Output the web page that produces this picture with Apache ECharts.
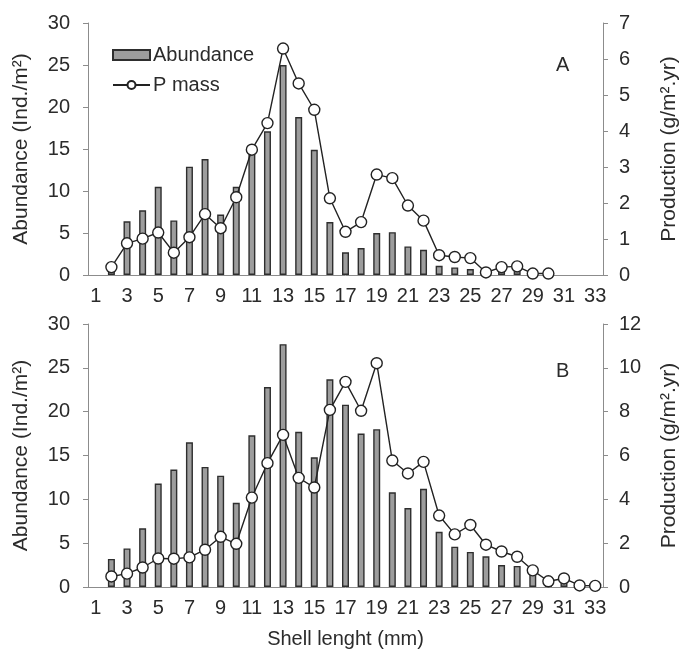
<!DOCTYPE html>
<html style="height: 100%">
<head>
<meta charset="utf-8">
<title>Abundance and production</title>
<script type="text/javascript" src="https://cdn.jsdelivr.net/npm/echarts@6/dist/echarts.min.js"></script>
</head>
<body style="height: 100%; margin: 0; background: #fff">
<div id="container" style="width: 684px; height: 655px"></div>
<script type="text/javascript">
// shell length classes (mm)
var lengths = ['1','2','3','4','5','6','7','8','9','10','11','12','13','14','15','16','17',
               '18','19','20','21','22','23','24','25','26','27','28','29','30','31','32','33'];

// panel A
var abundA = [null, 0.5, 6.4, 7.7, 10.5, 6.5, 12.9, 13.8, 7.2, 10.5, 14.5, 17.1, 25.0, 18.8, 14.9, 6.3, 2.7,
              3.2, 5.0, 5.1, 3.4, 3.0, 1.1, 0.9, 0.7, 0.1, 0.5, 0.5, null, null, null, null, null];
var pmassA = [null, 0.22, 0.88, 1.01, 1.18, 0.62, 1.05, 1.69, 1.30, 2.16, 3.48, 4.22, 6.29, 5.32, 4.59, 2.13, 1.20,
              1.47, 2.79, 2.69, 1.93, 1.51, 0.55, 0.50, 0.47, 0.07, 0.22, 0.24, 0.04, 0.04, null, null, null];

// panel B
var abundB = [null, 3.2, 4.4, 6.7, 11.8, 13.4, 16.5, 13.7, 12.7, 9.6, 17.3, 22.8, 27.7, 17.7, 14.8, 23.7, 20.8,
              17.5, 18.0, 10.8, 9.0, 11.2, 6.3, 4.6, 4.0, 3.5, 2.5, 2.4, 1.5, 0.3, 0.5, null, null];
var pmassB = [null, 0.48, 0.61, 0.89, 1.30, 1.29, 1.35, 1.70, 2.29, 1.97, 4.08, 5.65, 6.94, 4.98, 4.54, 8.08, 9.36,
              8.04, 10.21, 5.77, 5.18, 5.71, 3.26, 2.40, 2.83, 1.93, 1.62, 1.38, 0.76, 0.26, 0.39, 0.07, 0.05];

var font = 'Liberation Sans, Arial, sans-serif';
var axisGray = '#8c8c8c';
var textCol = '#2b2b2b';
var fs = 20;

function xAx(gridIndex, withName) {
    return {
        type: 'category',
        gridIndex: gridIndex,
        data: lengths,
        boundaryGap: true,
        name: withName ? 'Shell lenght (mm)' : '',
        nameLocation: 'middle',
        nameGap: 42,
        nameTextStyle: { fontFamily: font, fontSize: fs, color: textCol },
        axisLine: { lineStyle: { color: axisGray, width: 1 } },
        axisTick: { interval: 0, length: 5, lineStyle: { color: axisGray } },
        axisLabel: { interval: 1, margin: 11, fontFamily: font, fontSize: fs, color: textCol }
    };
}

function yAx(gridIndex, pos, max, interval, name) {
    return {
        type: 'value',
        gridIndex: gridIndex,
        position: pos,
        min: 0,
        max: max,
        interval: interval,
        name: name,
        nameLocation: 'middle',
        nameGap: 56,
        nameTextStyle: { fontFamily: font, fontSize: 21, color: textCol },
        splitLine: { show: false },
        axisLine: { show: true, lineStyle: { color: axisGray, width: 1 } },
        axisTick: { show: true, length: 5, lineStyle: { color: axisGray } },
        axisLabel: { margin: pos === 'left' ? 18 : 16, fontFamily: font, fontSize: fs, color: textCol }
    };
}

function barSeries(name, x, y, data) {
    return {
        name: name, type: 'bar', xAxisIndex: x, yAxisIndex: y, data: data,
        barWidth: 7,
        itemStyle: { color: '#9d9d9d', borderColor: '#2e2e2e', borderWidth: 1.4 }
    };
}

function lineSeries(name, x, y, data) {
    return {
        name: name, type: 'line', xAxisIndex: x, yAxisIndex: y, data: data,
        symbol: 'circle', symbolSize: 11, showAllSymbol: true,
        lineStyle: { color: '#222', width: 1.4 },
        itemStyle: { color: '#fff', borderColor: '#222', borderWidth: 1.4 },
        z: 3
    };
}

var chart = echarts.init(document.getElementById('container'));
var option = {
    animation: false,
    backgroundColor: '#fff',
    title: [
        { text: 'A', left: 551, top: 50, textStyle: { fontFamily: font, fontSize: fs, fontWeight: 'normal', color: textCol } },
        { text: 'B', left: 551, top: 356, textStyle: { fontFamily: font, fontSize: fs, fontWeight: 'normal', color: textCol } }
    ],
    legend: {
        orient: 'vertical',
        left: 107,
        top: 40,
        itemWidth: 37,
        itemHeight: 10,
        itemGap: 10,
        textStyle: { fontFamily: font, fontSize: fs, color: textCol, padding: [0, 0, 0, -2] },
        data: [
            { name: 'Abundance', icon: 'rect' },
            { name: 'P mass' }
        ]
    },
    grid: [
        { left: 88, right: 81, top: 23, height: 252, outerBoundsMode: 'none' },
        { left: 88, right: 81, top: 324, height: 263, outerBoundsMode: 'none' }
    ],
    xAxis: [xAx(0, false), xAx(1, true)],
    yAxis: [
        yAx(0, 'left', 30, 5, 'Abundance (Ind./m²)'),
        yAx(0, 'right', 7, 1, 'Production (g/m².yr)'),
        yAx(1, 'left', 30, 5, 'Abundance (Ind./m²)'),
        yAx(1, 'right', 12, 2, 'Production (g/m².yr)')
    ],
    series: [
        barSeries('Abundance', 0, 0, abundA),
        lineSeries('P mass', 0, 1, pmassA),
        barSeries('Abundance', 1, 2, abundB),
        lineSeries('P mass', 1, 3, pmassB)
    ]
};
chart.setOption(option);
</script>
</body>
</html>
